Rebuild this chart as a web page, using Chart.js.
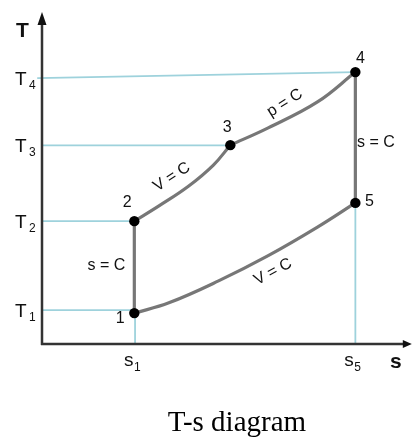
<!DOCTYPE html>
<html>
<head>
<meta charset="utf-8">
<script src="https://cdn.jsdelivr.net/npm/chart.js@4.4.1/dist/chart.umd.min.js"></script>
<style>
  html, body { margin: 0; padding: 0; background: #fff; }
  #wrap { width: 415px; height: 437px; }
</style>
</head>
<body>
<div id="wrap"><canvas id="mycanvas" width="415" height="437"></canvas></div>
<script>
// state points of the cycle (entropy s, temperature T, arbitrary units)
var stateNames = ['1', '2', '3', '4', '5'];
var stateS = [2.51, 2.51, 5.12, 8.52, 8.52];
var stateT = [0.93, 3.70, 5.99, 8.19, 4.25];

// curved processes
var isoV23S = [2.51, 3.18, 3.99, 4.66, 5.12];
var isoV23T = [3.70, 4.16, 4.76, 5.39, 5.99];
var isoP34S = [5.12, 6.15, 7.49, 8.52];
var isoP34T = [5.99, 6.51, 7.29, 8.19];
var isoV51S = [2.51, 3.45, 4.80, 6.15, 7.49, 8.52];
var isoV51T = [0.93, 1.24, 1.90, 2.66, 3.52, 4.25];

// axis marks
var tTickNames = ['1', '2', '3', '4'];
var tTicks = [1.02, 3.70, 5.98, 8.01];
var sTickNames = ['1', '5'];
var sTicks = [2.53, 8.52];

// process names along the curves
var procText = ['s = C', 'V = C', 'p = C', 's = C', 'V = C'];
var procS = [1.75, 3.53, 6.60, 9.08, 6.28];
var procT = [2.35, 5.03, 7.26, 6.08, 2.17];
var procAngle = [0, -33, -32, 0, -28];

function pts(xs, ys) {
	return xs.map(function(x, i) { return {x: x, y: ys[i]}; });
}

var guideColor = '#9ed2dc';
var lineColor = '#777777';

function guide(data) {
	return {data: data, showLine: true, borderColor: guideColor, borderWidth: 1.8,
		pointRadius: 0, clip: false};
}
function process(data, tension) {
	return {data: data, showLine: true, borderColor: lineColor, borderWidth: 3.2,
		pointRadius: 0, tension: tension, clip: false};
}

var datasets = [
	{data: pts(stateS, stateT), pointRadius: 5.2, pointBackgroundColor: '#000',
		pointBorderWidth: 0, showLine: false, clip: false},
	process(pts([stateS[0], stateS[1]], [stateT[0], stateT[1]]), 0),
	process(pts(isoV23S, isoV23T), 0.4),
	process(pts(isoP34S, isoP34T), 0.4),
	process(pts([stateS[3], stateS[4]], [stateT[3], stateT[4]]), 0),
	process(pts(isoV51S, isoV51T), 0.4),
	guide([{x: 0, y: tTicks[0]}, {x: stateS[0], y: tTicks[0]}]),
	guide([{x: 0, y: tTicks[1]}, {x: stateS[1], y: tTicks[1]}]),
	guide([{x: 0, y: tTicks[2]}, {x: stateS[2], y: tTicks[2]}]),
	guide([{x: -0.13, y: tTicks[3]}, {x: stateS[3], y: stateT[3]}]),
	guide([{x: sTicks[0], y: 0}, {x: sTicks[0], y: stateT[0]}]),
	guide([{x: sTicks[1], y: 0}, {x: sTicks[1], y: stateT[4]}])
];

// offsets of the state numbers from their dots
var nameDx = [-14, -7, -3, 5, 14];
var nameDy = [5, -19, -18, -13, -1];

var sans = '"Liberation Sans", Arial, sans-serif';

var diagramText = {
	id: 'diagramText',
	afterDatasetsDraw: function(chart) {
		var ctx = chart.ctx;
		var xs = chart.scales.x, ys = chart.scales.y;
		var x0 = xs.getPixelForValue(0), y0 = ys.getPixelForValue(0);
		var area = chart.chartArea;
		ctx.save();

		// axes with arrow heads
		ctx.strokeStyle = '#333';
		ctx.fillStyle = '#111';
		ctx.lineWidth = 2.5;
		ctx.beginPath();
		ctx.moveTo(x0, y0 + 1);
		ctx.lineTo(x0, area.top + 8);
		ctx.moveTo(x0 - 1, y0);
		ctx.lineTo(area.right - 4, y0);
		ctx.stroke();
		ctx.beginPath();
		ctx.moveTo(x0, area.top);
		ctx.lineTo(x0 - 4.5, area.top + 13);
		ctx.lineTo(x0 + 4.5, area.top + 13);
		ctx.closePath();
		ctx.fill();
		ctx.beginPath();
		ctx.moveTo(area.right + 2, y0);
		ctx.lineTo(area.right - 7, y0 - 4);
		ctx.lineTo(area.right - 7, y0 + 4);
		ctx.closePath();
		ctx.fill();

		ctx.fillStyle = '#111';
		ctx.textAlign = 'left';
		ctx.textBaseline = 'alphabetic';

		// temperature marks
		tTicks.forEach(function(v, i) {
			var y = ys.getPixelForValue(v);
			ctx.font = '19px ' + sans;
			ctx.fillText('T', 15, y + 7);
			ctx.font = '12px ' + sans;
			ctx.fillText(tTickNames[i], 29, y + 11);
		});

		// entropy marks
		sTicks.forEach(function(v, i) {
			var x = xs.getPixelForValue(v);
			ctx.font = '19px ' + sans;
			ctx.fillText('s', x - 11, y0 + 22);
			ctx.font = '12px ' + sans;
			ctx.fillText(sTickNames[i], x - 1, y0 + 27);
		});

		// axis names
		ctx.font = 'bold 21px ' + sans;
		ctx.fillText('T', 16, 37);
		ctx.fillText('s', 390, y0 + 24);

		// state numbers
		ctx.font = '16px ' + sans;
		ctx.textAlign = 'center';
		ctx.textBaseline = 'middle';
		stateNames.forEach(function(n, i) {
			ctx.fillText(n, xs.getPixelForValue(stateS[i]) + nameDx[i],
				ys.getPixelForValue(stateT[i]) + nameDy[i]);
		});

		// process names
		procText.forEach(function(t, i) {
			ctx.save();
			ctx.translate(xs.getPixelForValue(procS[i]), ys.getPixelForValue(procT[i]));
			ctx.rotate(procAngle[i] * Math.PI / 180);
			ctx.fillText(t, 0, 0);
			ctx.restore();
		});

		// caption
		ctx.font = '29px "Liberation Serif", "Times New Roman", serif';
		ctx.textBaseline = 'alphabetic';
		ctx.fillStyle = '#000';
		ctx.fillText('T-s diagram', 237, 431);
		ctx.restore();
	}
};

var ctx = document.getElementById('mycanvas');

var tsChart = new Chart(ctx, {
	type: 'scatter',
	data: {datasets: datasets},
	options: {
		responsive: false,
		animation: false,
		events: [],
		layout: {padding: {left: 42, right: 2, top: 12, bottom: 93}},
		scales: {
			x: {type: 'linear', min: 0, max: 10, display: false},
			y: {type: 'linear', min: 0, max: 10, display: false}
		},
		plugins: {
			legend: {display: false},
			tooltip: {enabled: false}
		}
	},
	plugins: [diagramText]
});
</script>
</body>
</html>
